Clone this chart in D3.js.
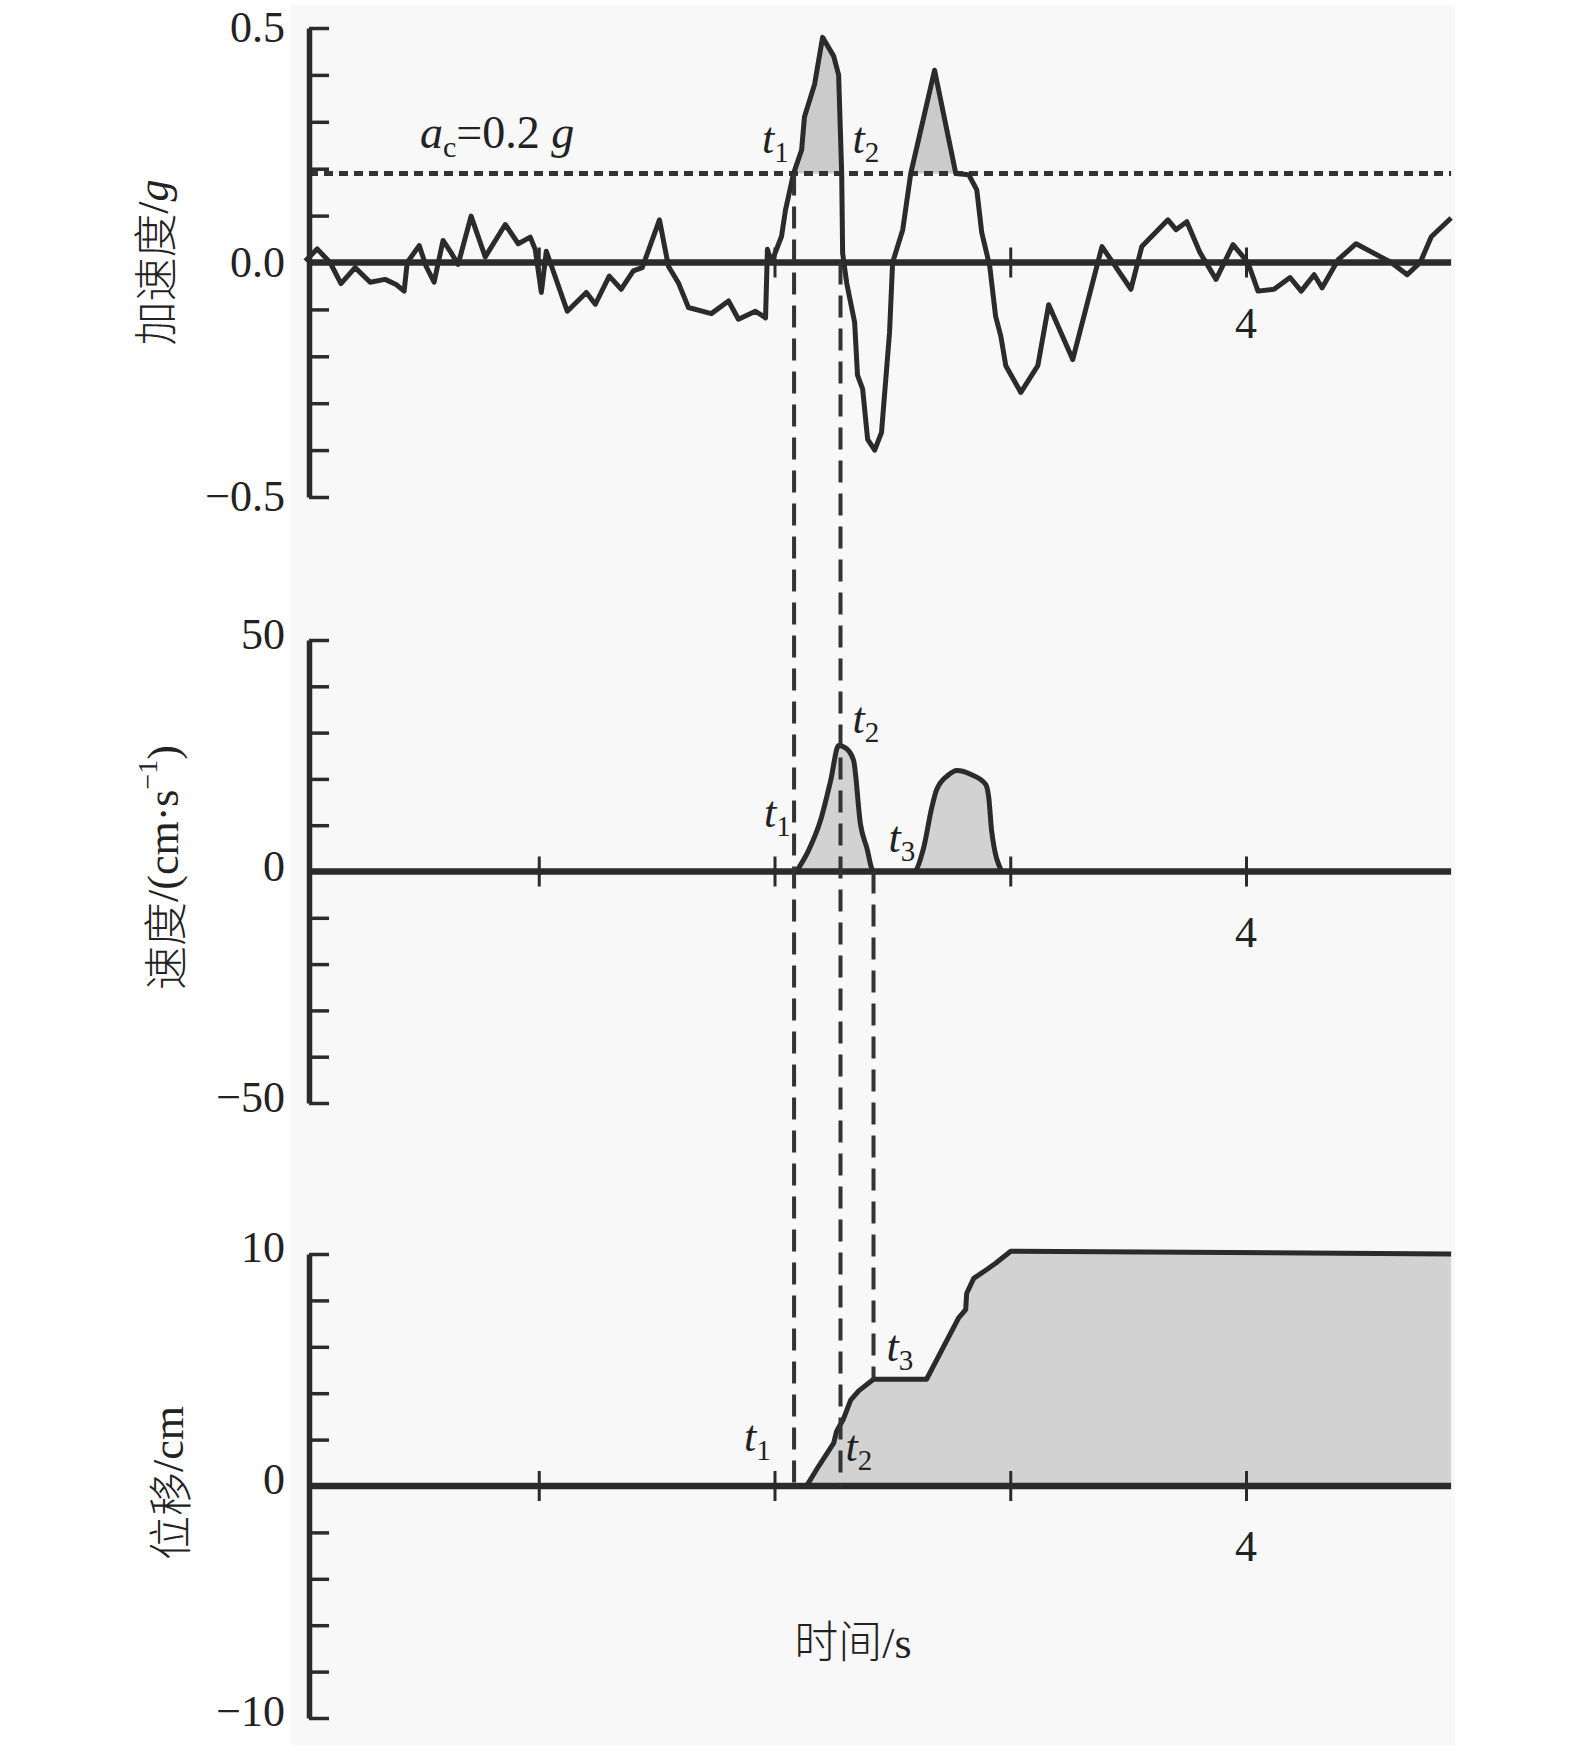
<!DOCTYPE html>
<html>
<head>
<meta charset="utf-8">
<script src="https://cdn.jsdelivr.net/npm/d3@7"></script>
<style>
  body { margin: 0; background: #fff; }
  text { font-family: "Liberation Serif", "Times New Roman", serif; fill: #222; }
  .cjk { font-family: "Noto Sans CJK SC", sans-serif; font-weight: 300; }
</style>
</head>
<body>
<svg id="chart"></svg>
<script>
// acceleration record (s, g)
const accTime = [0.01, 0.06, 0.115, 0.161, 0.221, 0.285, 0.348, 0.395, 0.429, 0.442,
  0.493, 0.522, 0.556, 0.594, 0.628, 0.658, 0.713, 0.773, 0.858, 0.913,
  0.964, 0.985, 1.011, 1.032, 1.121, 1.202, 1.240, 1.299, 1.350, 1.401,
  1.439, 1.512, 1.550, 1.592, 1.635, 1.732, 1.805, 1.847, 1.919, 1.962,
  1.970, 1.987, 2.030, 2.047, 2.081, 2.115, 2.127, 2.170, 2.204, 2.251,
  2.272, 2.285, 2.289, 2.306, 2.340, 2.352, 2.374, 2.395, 2.425, 2.454,
  2.488, 2.501, 2.544, 2.578, 2.679, 2.769, 2.824, 2.858, 2.879, 2.913,
  2.938, 2.960, 2.981, 3.045, 3.117, 3.163, 3.265, 3.389, 3.512, 3.558,
  3.669, 3.703, 3.749, 3.805, 3.873, 3.945, 4.008, 4.051, 4.119, 4.187,
  4.234, 4.289, 4.323, 4.391, 4.467, 4.616, 4.684, 4.739, 4.786, 4.870];
const accValue = [0.003, 0.029, 0, -0.045, -0.011, -0.042, -0.036, -0.047, -0.061, 0,
  0.036, -0.008, -0.042, 0.047, 0.021, -0.004, 0.099, 0.012, 0.081, 0.040,
  0.054, 0.028, -0.064, 0.024, -0.104, -0.064, -0.089, -0.029, -0.057, -0.018,
  -0.011, 0.091, -0.008, -0.043, -0.096, -0.109, -0.082, -0.121, -0.104, -0.118,
  0.028, 0.0, 0.056, 0.113, 0.19, 0.24, 0.31, 0.38, 0.48, 0.44,
  0.40, 0.19, 0.02, -0.043, -0.128, -0.24, -0.27, -0.377, -0.40, -0.362,
  -0.149, 0, 0.07, 0.19, 0.41, 0.19, 0.187, 0.155, 0.064, -0.008,
  -0.115, -0.157, -0.22, -0.277, -0.22, -0.09, -0.207, 0.034, -0.057, 0.034,
  0.091, 0.07, 0.087, 0.021, -0.036, 0.038, 0, -0.061, -0.057, -0.032,
  -0.061, -0.026, -0.054, 0.006, 0.04, 0, -0.026, 0, 0.055, 0.095];
const AC = 0.19; // threshold line as drawn (labelled 0.2 g)

// velocity (cm/s)
const velTime = [0, 2.093, 2.144, 2.195, 2.238, 2.272, 2.301, 2.335, 2.365, 2.391, 2.420,
  2.590, 2.633, 2.667, 2.688, 2.739, 2.773, 2.836, 2.896, 2.909, 2.921, 2.964, 4.87];
const velValue = [0, 0, 4.5, 11, 19.6, 27.2, 26.7, 24.1, 10.1, 5.2, 0,
  0, 5.2, 13.8, 17.7, 20.9, 21.8, 20.9, 18.8, 15.9, 8.8, 0, 0];

// displacement (cm)
const dispTime = [0, 2.136, 2.187, 2.251, 2.263, 2.293, 2.323, 2.357, 2.420, 2.645,
  2.781, 2.811, 2.815, 2.845, 2.896, 2.938, 3.002, 4.87];
const dispValue = [0, 0, 0.85, 1.85, 2.35, 2.9, 3.7, 4.1, 4.6, 4.6,
  7.25, 7.6, 8.3, 8.95, 9.3, 9.6, 10.12, 10.0];

const xTicks = [1, 2, 3, 4];
const xLabelTicks = [4];
const T1 = 2.083, T2 = 2.28, T3 = 2.42;
const T_END = 4.87;

const accTicks = d3.range(-5, 6).map(d => d / 10);
const velTicks = d3.range(-50, 51, 10);
const dispTicks = d3.range(-10, 11, 2);

const W = 1575, H = 1751;
const ink = "#2b2b2b";
const fill = "#d2d2d2";
const axisX = 309;

const svg = d3.select("#chart").attr("width", W).attr("height", H);
svg.append("rect").attr("width", W).attr("height", H).attr("fill", "#fff");
svg.append("rect").attr("x", 290).attr("y", 5).attr("width", 1165).attr("height", 1740)
  .attr("fill", "#f8f8f8");

const x = d3.scaleLinear().domain([0, 4]).range([303, 1246]);

const yAcc = d3.scaleLinear().domain([-0.5, 0.5]).range([497, 28]);
const yVel = d3.scaleLinear().domain([-50, 50]).range([1103, 640]);
const yDisp = d3.scaleLinear().domain([-10, 10]).range([1718, 1254]);

const fmtAcc = d => (d < 0 ? "\u2212" : "") + Math.abs(d).toFixed(1);
const fmtInt = d => (d < 0 ? "\u2212" : "") + Math.abs(d);

const panels = [
  { y: yAcc, ticks: accTicks, labels: [0.5, 0, -0.5], fmt: fmtAcc, dy: 14 },
  { y: yVel, ticks: velTicks, labels: [50, 0, -50], fmt: fmtInt, dy: 9 },
  { y: yDisp, ticks: dispTicks, labels: [10, 0, -10], fmt: fmtInt, dy: 8 }
];

const acc = accTime.map((t, i) => ({ t, v: accValue[i] }));
const vel = velTime.map((t, i) => ({ t, v: velValue[i] }));
const disp = dispTime.map((t, i) => ({ t, v: dispValue[i] }));

// fills first
svg.append("path").datum(acc)
  .attr("fill", "#cbcbcb")
  .attr("d", d3.area().defined(d => d.v >= AC)
    .x(d => x(d.t)).y0(yAcc(AC)).y1(d => yAcc(d.v)));

svg.append("path").datum(vel)
  .attr("fill", fill)
  .attr("d", d3.area().curve(d3.curveMonotoneX)
    .x(d => x(d.t)).y0(yVel(0)).y1(d => yVel(d.v)));

svg.append("path").datum(disp)
  .attr("fill", fill)
  .attr("d", d3.area().x(d => x(d.t)).y0(yDisp(0)).y1(d => yDisp(d.v)));

// threshold line
svg.append("line")
  .attr("x1", axisX).attr("x2", x(T_END))
  .attr("y1", yAcc(AC)).attr("y2", yAcc(AC))
  .attr("stroke", "#333").attr("stroke-width", 5)
  .attr("stroke-dasharray", "9,6");

// axes per panel
panels.forEach(p => {
  const g = svg.append("g")
    .attr("transform", `translate(${axisX},0)`)
    .call(d3.axisRight(p.y).tickValues(p.ticks).tickSize(20).tickSizeOuter(0).tickFormat(""));
  g.select(".domain").attr("stroke", ink).attr("stroke-width", 5.5);
  g.selectAll(".tick line").attr("stroke", ink).attr("stroke-width", 3.5);

  svg.selectAll(null).data(p.labels).enter().append("text")
    .attr("x", 285).attr("y", d => p.y(d) + p.dy)
    .attr("text-anchor", "end").attr("font-size", 44)
    .text(p.fmt);

  const y0 = p.y(0);
  svg.append("line")
    .attr("x1", axisX).attr("x2", x(T_END))
    .attr("y1", y0).attr("y2", y0)
    .attr("stroke", ink).attr("stroke-width", 6.5);

  const xg = svg.append("g")
    .attr("transform", `translate(0,${y0 - 15})`)
    .call(d3.axisBottom(x).tickValues(xTicks).tickSize(30).tickSizeOuter(0).tickFormat(""));
  xg.select(".domain").remove();
  xg.selectAll(".tick line").attr("stroke", ink).attr("stroke-width", 3);

  svg.selectAll(null).data(xLabelTicks).enter().append("text")
    .attr("x", d => x(d)).attr("y", y0 + 75)
    .attr("text-anchor", "middle").attr("font-size", 44)
    .text(d => d);
});

// curves
const line = d3.line().x(d => x(d.t)).y(d => d.y);
const smooth = d3.line().curve(d3.curveMonotoneX).x(d => x(d.t)).y(d => d.y);
const curveStyle = sel => sel.attr("fill", "none").attr("stroke", ink)
  .attr("stroke-width", 5).attr("stroke-linejoin", "round");

svg.append("path").datum(acc.map(d => ({ t: d.t, y: yAcc(d.v) })))
  .call(curveStyle).attr("d", line);
svg.append("path").datum(vel.filter(d => d.t > 2 && d.t < 3).map(d => ({ t: d.t, y: yVel(d.v) })))
  .call(curveStyle).attr("d", smooth);
svg.append("path").datum(disp.filter(d => d.t > 2).map(d => ({ t: d.t, y: yDisp(d.v) })))
  .call(curveStyle).attr("d", line);

// dashed guide lines
const dispAt = t => d3.scaleLinear().domain(dispTime).range(dispValue)(t);
const guides = [
  { t: T1, from: yAcc(AC), to: yDisp(0) },
  { t: T2, from: yAcc(0), to: yDisp(0) },
  { t: T3, from: yVel(0), to: yDisp(dispAt(T3)) }
];
svg.selectAll(null).data(guides).enter().append("line")
  .attr("x1", d => x(d.t)).attr("x2", d => x(d.t))
  .attr("y1", d => d.from).attr("y2", d => d.to)
  .attr("stroke", "#333").attr("stroke-width", 4)
  .attr("stroke-dasharray", "22,11");

// t labels
function tLabel(px, py, n) {
  const t = svg.append("text").attr("x", px).attr("y", py).attr("font-size", 44);
  t.append("tspan").attr("font-style", "italic").text("t");
  t.append("tspan").attr("font-size", 29).attr("dy", 9).text(n);
}
tLabel(x(T1) - 32, yAcc(AC) - 20, 1);
tLabel(x(T2) + 12, yAcc(AC) - 20, 2);
tLabel(x(T1) - 30, yVel(0) - 45, 1);
tLabel(x(T2) + 12, yVel(27.2) - 13, 2);
tLabel(x(T3) + 15, yVel(0) - 20, 3);
tLabel(x(T1) - 50, yDisp(0) - 35, 1);
tLabel(x(T2) + 5, yDisp(0) - 25, 2);
tLabel(x(T3) + 13, yDisp(dispAt(T3)) - 18, 3);

// threshold label
const ac = svg.append("text").attr("x", 420).attr("y", 148).attr("font-size", 46);
ac.append("tspan").attr("font-style", "italic").text("a");
ac.append("tspan").attr("font-size", 30).attr("dy", 9).text("c");
ac.append("tspan").attr("dy", -9).text("=0.2 ");
ac.append("tspan").attr("font-style", "italic").text("g");

// axis titles
function yTitle(cx, cy, build) {
  const t = svg.append("text")
    .attr("transform", `translate(${cx},${cy}) rotate(-90)`)
    .attr("text-anchor", "middle").attr("dominant-baseline", "central")
    .attr("font-size", 44);
  build(t);
}
yTitle(153, yAcc(0), t => {
  t.append("tspan").attr("class", "cjk").text("加速度");
  t.append("tspan").text("/");
  t.append("tspan").attr("font-style", "italic").text("g");
});
yTitle(163, yVel(0) - 4, t => {
  t.append("tspan").attr("class", "cjk").text("速度");
  t.append("tspan").text("/(cm\u00b7s");
  t.append("tspan").attr("font-size", 28).attr("dy", -16).text("\u22121");
  t.append("tspan").attr("dy", 16).text(")");
});
yTitle(168, yDisp(0) - 3, t => {
  t.append("tspan").attr("class", "cjk").text("位移");
  t.append("tspan").text("/cm");
});

const xt = svg.append("text").attr("x", 853).attr("y", 1658)
  .attr("text-anchor", "middle").attr("font-size", 44);
xt.append("tspan").attr("class", "cjk").text("时间");
xt.append("tspan").text("/s");
</script>
</body>
</html>
